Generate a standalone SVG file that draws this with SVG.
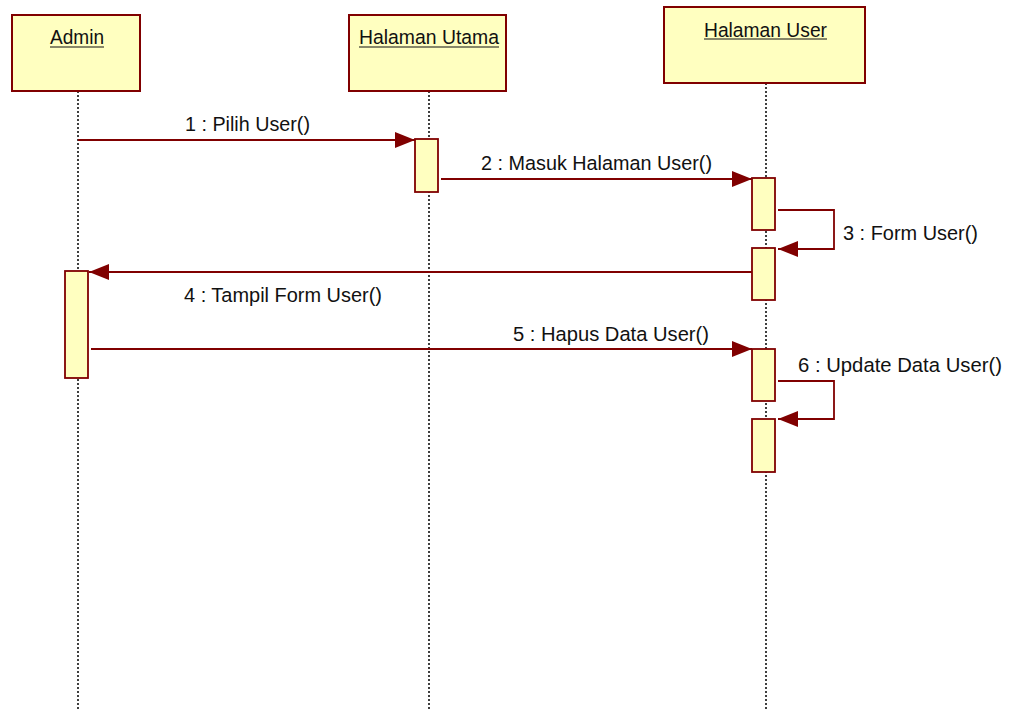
<svg xmlns="http://www.w3.org/2000/svg" width="1012" height="711" viewBox="0 0 1012 711">
<defs>
<style>
.box{fill:#FFFFC0;stroke:#800000;stroke-width:2}
.act{fill:#FFFFC0;stroke:#800000;stroke-width:1.8}
.life{stroke:#000;stroke-width:1.5;stroke-dasharray:2 2;fill:none}
.msg{stroke:#800000;stroke-width:1.8;fill:none}
.t{font-family:"Liberation Sans","DejaVu Sans",sans-serif;font-size:20.5px;fill:#111}
.ul{stroke:#111;stroke-width:1.2}
</style>
<marker id="ah" markerWidth="20" markerHeight="16" refX="20" refY="8" orient="auto" markerUnits="userSpaceOnUse">
<path d="M0,0 L20,8 L0,16 Z" fill="#800000"/>
</marker>
</defs>
<rect width="1012" height="711" fill="#fff"/>
<g id="lifelines">
<line class="life" x1="78" y1="91" x2="78" y2="711"/>
<line class="life" x1="429" y1="91" x2="429" y2="711"/>
<line class="life" x1="766" y1="83" x2="766" y2="711"/>
</g>
<g id="admin">
<rect class="box" x="12" y="15" width="128" height="76"/>
<text class="t" x="50" y="44" textLength="54" lengthAdjust="spacingAndGlyphs">Admin</text>
<line class="ul" x1="50" y1="47" x2="104" y2="47"/>
<rect class="act" x="65" y="271" width="23" height="107"/>
</g>
<g id="halaman-utama">
<rect class="box" x="349" y="15" width="157" height="76"/>
<text class="t" x="359" y="44" textLength="140" lengthAdjust="spacingAndGlyphs">Halaman Utama</text>
<line class="ul" x1="359" y1="47" x2="499" y2="47"/>
<rect class="act" x="415" y="139" width="23" height="53"/>
</g>
<g id="halaman-user">
<rect class="box" x="664" y="7" width="201" height="76"/>
<text class="t" x="704" y="36.5" textLength="123" lengthAdjust="spacingAndGlyphs">Halaman User</text>
<line class="ul" x1="704" y1="39" x2="827" y2="39"/>
<rect class="act" x="752" y="178" width="23" height="52"/>
<rect class="act" x="752" y="248" width="23" height="52"/>
<rect class="act" x="752" y="349" width="23" height="52"/>
<rect class="act" x="752" y="419" width="23" height="53"/>
</g>
<g id="connectors">
<line class="msg" x1="78" y1="140" x2="415" y2="140" marker-end="url(#ah)"/>
<text class="t" x="185" y="131" textLength="125" lengthAdjust="spacingAndGlyphs">1 : Pilih User()</text>
<line class="msg" x1="441" y1="179" x2="752" y2="179" marker-end="url(#ah)"/>
<text class="t" x="481" y="169.5" textLength="231" lengthAdjust="spacingAndGlyphs">2 : Masuk Halaman User()</text>
<polyline class="msg" points="778,210 834,210 834,249 778,249" marker-end="url(#ah)"/>
<text class="t" x="843" y="239.5" textLength="135" lengthAdjust="spacingAndGlyphs">3 : Form User()</text>
<line class="msg" x1="752" y1="272" x2="89" y2="272" marker-end="url(#ah)"/>
<text class="t" x="184" y="301.5" textLength="198" lengthAdjust="spacingAndGlyphs">4 : Tampil Form User()</text>
<line class="msg" x1="91" y1="349" x2="752" y2="349" marker-end="url(#ah)"/>
<text class="t" x="513" y="341" textLength="196" lengthAdjust="spacingAndGlyphs">5 : Hapus Data User()</text>
<polyline class="msg" points="778,381 834,381 834,419 778,419" marker-end="url(#ah)"/>
<text class="t" x="798" y="372" textLength="204" lengthAdjust="spacingAndGlyphs">6 : Update Data User()</text>
</g>
</svg>
